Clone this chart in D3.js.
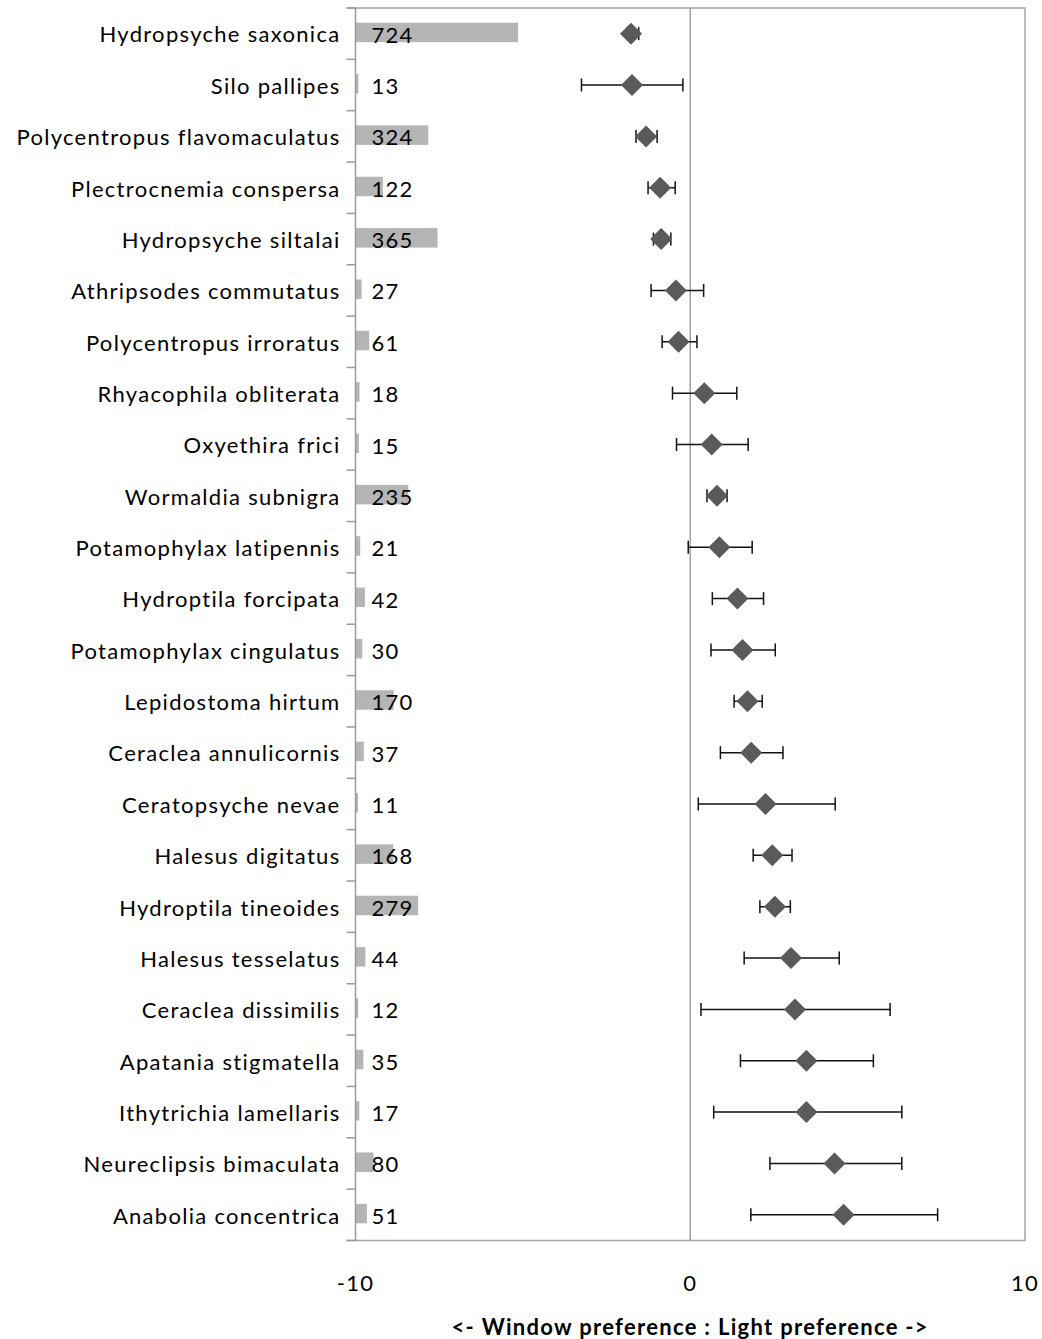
<!DOCTYPE html>
<html>
<head>
<meta charset="utf-8">
<script src="https://cdn.jsdelivr.net/npm/d3@7"></script>
<style>
  html, body { margin: 0; padding: 0; background: #fff; }
  #chart { width: 1042px; height: 1339px; }
  text { font-family: Lato, "Open Sans", sans-serif; letter-spacing: 1.3px; }
</style>
</head>
<body>
<div id="chart"></div>
<script>
// ── Data ───────────────────────────────────────
const SPECIES = [
  "Hydropsyche saxonica", "Silo pallipes", "Polycentropus flavomaculatus",
  "Plectrocnemia conspersa", "Hydropsyche siltalai", "Athripsodes commutatus",
  "Polycentropus irroratus", "Rhyacophila obliterata", "Oxyethira frici",
  "Wormaldia subnigra", "Potamophylax latipennis", "Hydroptila forcipata",
  "Potamophylax cingulatus", "Lepidostoma hirtum", "Ceraclea annulicornis",
  "Ceratopsyche nevae", "Halesus digitatus", "Hydroptila tineoides",
  "Halesus tesselatus", "Ceraclea dissimilis", "Apatania stigmatella",
  "Ithytrichia lamellaris", "Neureclipsis bimaculata", "Anabolia concentrica"
];
const COUNTS = [724, 13, 324, 122, 365, 27, 61, 18, 15, 235, 21, 42, 30, 170,
                37, 11, 168, 279, 44, 12, 35, 17, 80, 51];
const PREF = [-1.77, -1.74, -1.32, -0.90, -0.87, -0.43, -0.35, 0.42, 0.64, 0.80,
              0.87, 1.41, 1.56, 1.71, 1.82, 2.25, 2.45, 2.53, 3.01, 3.13,
              3.47, 3.47, 4.31, 4.58];
const PREF_LO = [-1.89, -3.25, -1.62, -1.26, -1.10, -1.17, -0.84, -0.53, -0.41, 0.50,
                 -0.06, 0.66, 0.62, 1.31, 0.90, 0.24, 1.88, 2.08, 1.61, 0.32,
                 1.50, 0.70, 2.38, 1.81];
const PREF_HI = [-1.54, -0.22, -0.99, -0.45, -0.58, 0.40, 0.20, 1.39, 1.73, 1.10,
                 1.85, 2.19, 2.54, 2.15, 2.77, 4.33, 3.04, 2.99, 4.45, 5.97,
                 5.47, 6.32, 6.32, 7.39];
const X_TICKS = [-10, 0, 10];
const X_TITLE = "<- Window preference : Light preference ->";
const COUNT_MAX = 2980; // count mapped across the full -10..10 width

(function () {
  const W = 1042, H = 1339;
  const margin = { top: 8, right: 17, bottom: 98.5, left: 355.5 };
  const width  = W - margin.left - margin.right;
  const height = H - margin.top - margin.bottom;

  const data = SPECIES.map((s, i) => ({
    name: s, n: COUNTS[i], v: PREF[i], lo: PREF_LO[i], hi: PREF_HI[i]
  }));

  const svg = d3.select("#chart").append("svg")
    .attr("width", W).attr("height", H);
  const g = svg.append("g")
    .attr("transform", `translate(${margin.left},${margin.top})`);

  const x = d3.scaleLinear().domain([-10, 10]).range([0, width]);
  const xCount = d3.scaleLinear().domain([0, COUNT_MAX]).range([0, width]);
  const y = d3.scaleBand().domain(SPECIES).range([0, height]);
  const yc = d => y(d) + y.bandwidth() / 2;

  // Frame (top, right, bottom)
  g.append("path")
    .attr("d", `M-9,0H${width}V${height}H-9`)
    .attr("fill", "none").attr("stroke", "#a6a6a6").attr("stroke-width", 1.5);

  // Zero line
  g.append("line")
    .attr("x1", x(0)).attr("x2", x(0)).attr("y1", 0).attr("y2", height)
    .attr("stroke", "#a0a0a0").attr("stroke-width", 1.5);

  // Count bars
  g.selectAll(".bar").data(data).join("rect")
    .attr("class", "bar")
    .attr("x", 0)
    .attr("y", d => yc(d.name) - 11)
    .attr("width", d => xCount(d.n))
    .attr("height", 19.5)
    .attr("fill", "#b5b5b5");

  g.selectAll(".count").data(data).join("text")
    .attr("class", "count")
    .attr("x", 16)
    .attr("y", d => yc(d.name) + 9)
    .attr("font-size", "22px").attr("fill", "#000")
    .text(d => d.n);

  // Left axis with boundary ticks
  g.append("line")
    .attr("x1", 0).attr("x2", 0).attr("y1", 0).attr("y2", height)
    .attr("stroke", "#9a9a9a").attr("stroke-width", 1.5);
  const bounds = d3.range(SPECIES.length + 1).map(i => i * y.step());
  g.selectAll(".ytick").data(bounds).join("line")
    .attr("class", "ytick")
    .attr("x1", -9).attr("x2", 0)
    .attr("y1", d => d).attr("y2", d => d)
    .attr("stroke", "#9a9a9a").attr("stroke-width", 1.5);

  const yAxis = g.append("g").call(d3.axisLeft(y).tickSize(0).tickPadding(15));
  yAxis.select(".domain").remove();
  yAxis.selectAll("text")
    .attr("font-family", "Lato, 'Open Sans', sans-serif")
    .attr("font-size", "22px").attr("fill", "#000")
    .attr("dy", "0.4em");

  // Error bars
  const err = g.selectAll(".err").data(data).join("g").attr("class", "err");
  err.append("line")
    .attr("x1", d => x(d.lo)).attr("x2", d => x(d.hi))
    .attr("y1", d => yc(d.name)).attr("y2", d => yc(d.name))
    .attr("stroke", "#111").attr("stroke-width", 1.5);
  err.append("line")
    .attr("x1", d => x(d.lo)).attr("x2", d => x(d.lo))
    .attr("y1", d => yc(d.name) - 6.5).attr("y2", d => yc(d.name) + 6.5)
    .attr("stroke", "#111").attr("stroke-width", 1.5);
  err.append("line")
    .attr("x1", d => x(d.hi)).attr("x2", d => x(d.hi))
    .attr("y1", d => yc(d.name) - 6.5).attr("y2", d => yc(d.name) + 6.5)
    .attr("stroke", "#111").attr("stroke-width", 1.5);

  // Diamonds
  g.selectAll(".pt").data(data).join("path")
    .attr("class", "pt")
    .attr("transform", d => `translate(${x(d.v)},${yc(d.name)})`)
    .attr("d", "M0,-11L11,0L0,11L-11,0Z")
    .attr("fill", "#5a5a5a");

  // X tick labels
  g.selectAll(".xtick").data(X_TICKS).join("text")
    .attr("class", "xtick")
    .attr("x", d => x(d)).attr("y", height + 50)
    .attr("text-anchor", "middle")
    .attr("font-size", "22px").attr("fill", "#000")
    .text(d => d);

  // X title
  g.append("text")
    .attr("x", x(0)).attr("y", height + 94)
    .attr("text-anchor", "middle")
    .attr("font-size", "22px").attr("font-weight", "bold").attr("fill", "#000")
    .text(X_TITLE);
})();
</script>
</body>
</html>
